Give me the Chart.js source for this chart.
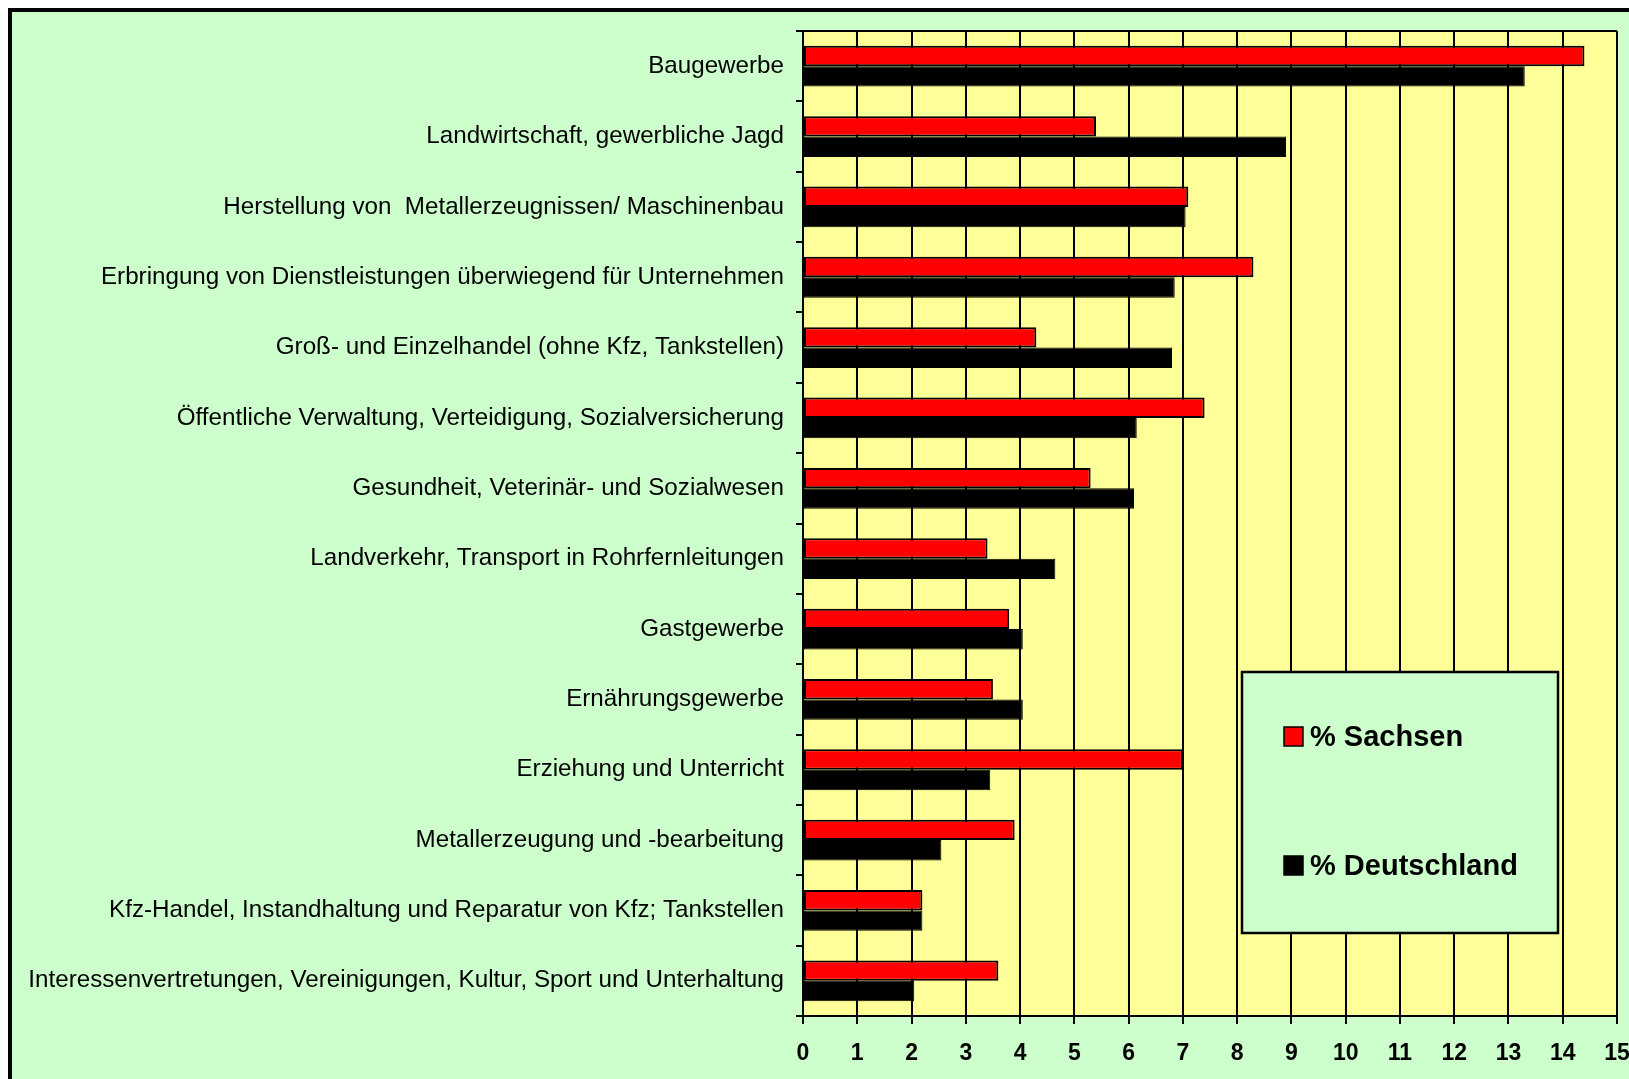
<!DOCTYPE html>
<html>
<head>
<meta charset="utf-8">
<script src="https://cdn.jsdelivr.net/npm/chart.js@4"></script>
<style>
  html, body { margin: 0; padding: 0; background: #ffffff; }
  canvas { display: block; }
</style>
</head>
<body>
<canvas id="chart" width="1629" height="1079"></canvas>
<script>
const branchen = [
  'Baugewerbe',
  'Landwirtschaft, gewerbliche Jagd',
  'Herstellung von  Metallerzeugnissen/ Maschinenbau',
  'Erbringung von Dienstleistungen überwiegend für Unternehmen',
  'Groß- und Einzelhandel (ohne Kfz, Tankstellen)',
  'Öffentliche Verwaltung, Verteidigung, Sozialversicherung',
  'Gesundheit, Veterinär- und Sozialwesen',
  'Landverkehr, Transport in Rohrfernleitungen',
  'Gastgewerbe',
  'Ernährungsgewerbe',
  'Erziehung und Unterricht',
  'Metallerzeugung und -bearbeitung',
  'Kfz-Handel, Instandhaltung und Reparatur von Kfz; Tankstellen',
  'Interessenvertretungen, Vereinigungen, Kultur, Sport und Unterhaltung'
];
const sachsen = [14.4, 5.4, 7.1, 8.3, 4.3, 7.4, 5.3, 3.4, 3.8, 3.5, 7.0, 3.9, 2.2, 3.6];
const deutschland = [13.3, 8.9, 7.05, 6.85, 6.8, 6.15, 6.1, 4.65, 4.05, 4.05, 3.45, 2.55, 2.2, 2.05];
const xMin = 0, xMax = 15, xStep = 1;

const ctx = document.getElementById('chart').getContext('2d');

const chart = new Chart(ctx, {
  type: 'bar',
  data: {
    labels: branchen,
    datasets: [{
      label: '% Sachsen',
      data: sachsen,
      backgroundColor: '#ff0000',
      borderColor: '#000000',
      borderWidth: 2,
      borderSkipped: false
    }, {
      label: '% Deutschland',
      data: deutschland,
      backgroundColor: '#000000',
      borderColor: '#000000',
      borderWidth: 1,
      borderSkipped: false
    }]
  },
  options: {
    indexAxis: 'y',
    responsive: false,
    devicePixelRatio: 1,
    animation: false,
    categoryPercentage: 0.58,
    barPercentage: 1.0,
    layout: {
      padding: { left: 0, top: 31, right: 12, bottom: 0 }
    },
    plugins: {
      legend: { display: false },
      tooltip: { enabled: false }
    },
    scales: {
      x: {
        min: xMin,
        max: xMax,
        ticks: {
          stepSize: xStep,
          color: '#000000',
          padding: 16,
          maxRotation: 0,
          font: { family: 'Liberation Sans, Arial, sans-serif', size: 23, weight: 'bold' }
        },
        grid: {
          color: '#000000',
          lineWidth: 2,
          tickLength: 8
        },
        border: { color: '#000000', width: 2 },
        afterFit: (scale) => {
          scale.height = 63;
          scale.paddingLeft = 0;
          scale.paddingRight = 0;
        }
      },
      y: {
        ticks: {
          color: '#000000',
          padding: 12,
          autoSkip: false,
          font: { family: 'Liberation Sans, Arial, sans-serif', size: 24.2 }
        },
        grid: {
          color: '#000000',
          lineWidth: 2,
          drawOnChartArea: false,
          tickLength: 7,
          offset: true
        },
        border: { color: '#000000', width: 2 },
        afterFit: (scale) => {
          scale.width = 803;
          scale.paddingTop = 0;
          scale.paddingBottom = 0;
        }
      }
    }
  },
  plugins: [{
    id: 'rahmen',
    beforeDraw(chart) {
      const { ctx, chartArea } = chart;
      ctx.save();
      ctx.fillStyle = '#ffffff';
      ctx.fillRect(0, 0, chart.width, chart.height);
      // gruener Rahmen
      ctx.fillStyle = '#ccffcc';
      ctx.fillRect(10, 10, chart.width + 20, chart.height + 20);
      ctx.strokeStyle = '#000000';
      ctx.lineWidth = 4;
      ctx.strokeRect(10, 10, chart.width + 20, chart.height + 20);
      // gelbe Zeichenflaeche
      ctx.fillStyle = '#ffff99';
      ctx.fillRect(chartArea.left, chartArea.top, chartArea.right - chartArea.left, chartArea.bottom - chartArea.top);
      ctx.restore();
    },
    afterDraw(chart) {
      const { ctx, chartArea } = chart;
      ctx.save();
      ctx.strokeStyle = '#000000';
      ctx.lineWidth = 2;
      ctx.beginPath();
      ctx.moveTo(chartArea.left, chartArea.top);
      ctx.lineTo(chartArea.right, chartArea.top);
      ctx.stroke();

      // Legende
      ctx.fillStyle = '#ccffcc';
      ctx.fillRect(1242, 672, 316, 261);
      ctx.lineWidth = 2.5;
      ctx.strokeRect(1242, 672, 316, 261);
      const rows = [737, 866];
      chart.data.datasets.forEach((ds, i) => {
        const y = rows[i];
        ctx.fillStyle = ds.backgroundColor;
        ctx.fillRect(1284, y - 10, 19, 19);
        ctx.lineWidth = 1.5;
        ctx.strokeStyle = '#000000';
        ctx.strokeRect(1284, y - 10, 19, 19);
        ctx.fillStyle = '#000000';
        ctx.font = 'bold 29px Liberation Sans, Arial, sans-serif';
        ctx.textAlign = 'left';
        ctx.textBaseline = 'middle';
        ctx.fillText(ds.label, 1310, y + 1);
      });
      ctx.restore();
    }
  }]
});
</script>
</body>
</html>
